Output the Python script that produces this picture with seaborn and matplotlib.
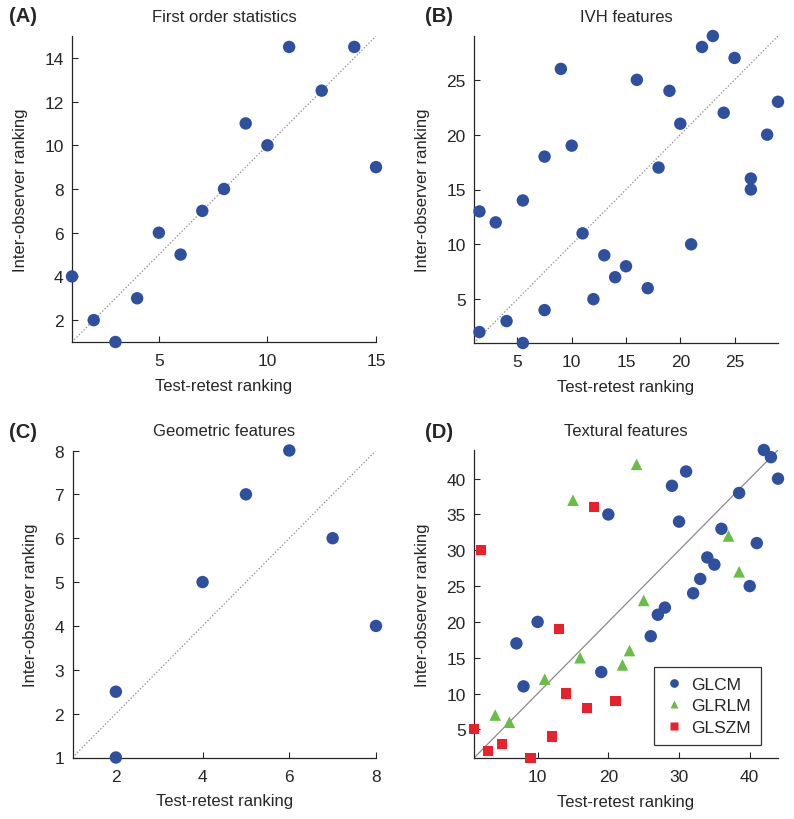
import numpy as np
import pandas as pd
import matplotlib
matplotlib.use("Agg")
import matplotlib.pyplot as plt
import seaborn as sns

# (A) First order statistics
first_test = [1, 2, 3, 4, 5, 6, 7, 8, 9, 10, 11, 12.5, 14, 15]
first_inter = [4, 2, 1, 3, 6, 5, 7, 8, 11, 10, 14.5, 12.5, 14.5, 9]

# (B) IVH features
ivh_test = [1.5, 1.5, 3, 4, 5.5, 5.5, 7.5, 7.5, 9, 10, 11, 12, 13, 14, 15,
            16, 17, 18, 19, 20, 21, 22, 23, 24, 25, 26.5, 26.5, 28, 29]
ivh_inter = [13, 2, 12, 3, 14, 1, 18, 4, 26, 19, 11, 5, 9, 7, 8,
             25, 6, 17, 24, 21, 10, 28, 29, 22, 27, 16, 15, 20, 23]

# (C) Geometric features
geo_test = [2, 2, 4, 5, 6, 7, 8]
geo_inter = [1, 2.5, 5, 7, 8, 6, 4]

# (D) Textural features
glcm_test = [7, 8, 10, 19, 20, 26, 27, 28, 29, 30, 31, 32, 33, 34, 35, 36,
             38.5, 40, 41, 42, 43, 44]
glcm_inter = [17, 11, 20, 13, 35, 18, 21, 22, 39, 34, 41, 24, 26, 29, 28, 33,
              38, 25, 31, 44, 43, 40]
glrlm_test = [4, 6, 11, 15, 16, 22, 23, 24, 25, 37, 38.5]
glrlm_inter = [7, 6, 12, 37, 15, 14, 16, 42, 23, 32, 27]
glszm_test = [1, 2, 3, 5, 9, 12, 13, 14, 17, 18, 21]
glszm_inter = [5, 30, 2, 3, 1, 4, 19, 10, 8, 36, 9]

BLUE = "#2f4f9f"
GREEN = "#6abd45"
RED = "#e8212b"

sns.set_style("ticks")
plt.rcParams["font.family"] = ["Liberation Sans", "DejaVu Sans"]

W, H = 794, 820
fig = plt.figure(figsize=(W / 100, H / 100), dpi=100)


def px_axes(left, top, right, bottom):
    return fig.add_axes([left / W, 1 - bottom / H, (right - left) / W, (bottom - top) / H])


def style(ax, lim, ticks, title):
    ax.set_xlim(*lim)
    ax.set_ylim(*lim)
    ax.set_xticks(ticks[0])
    ax.set_yticks(ticks[1])
    ax.tick_params(direction="in", length=4, width=0.8, labelsize=12.5)
    ax.tick_params(axis="x", pad=8)
    ax.tick_params(axis="y", pad=6)
    for s in ["top", "right"]:
        ax.spines[s].set_visible(False)
    for s in ["left", "bottom"]:
        ax.spines[s].set_linewidth(0.9)
    ax.set_title(title, fontsize=12, pad=11)
    ax.set_xlabel("Test-retest ranking", fontsize=12, labelpad=7)
    ax.set_ylabel("Inter-observer ranking", fontsize=12, labelpad=12)


def diag(ax, lim, ls=":", color="#888888"):
    sns.lineplot(x=list(lim), y=list(lim), ax=ax, color=color, lw=0.9, linestyle=ls, zorder=1)


panels = [
    ("(A)", "First order statistics", first_test, first_inter, (1, 15),
     ([5, 10, 15], [2, 4, 6, 8, 10, 12, 14]), (72, 37, 376, 343)),
    ("(B)", "IVH features", ivh_test, ivh_inter, (1, 29),
     ([5, 10, 15, 20, 25], [5, 10, 15, 20, 25]), (474, 37, 778, 344)),
    ("(C)", "Geometric features", geo_test, geo_inter, (1, 8),
     ([2, 4, 6, 8], [1, 2, 3, 4, 5, 6, 7, 8]), (72.5, 451.5, 376, 758.5)),
]
label_pos = {"(A)": (9, 17), "(B)": (425, 17), "(C)": (9, 433), "(D)": (425, 433)}

for lab, title, xs, ys, lim, ticks, box in panels:
    ax = px_axes(*box)
    diag(ax, lim)
    sns.scatterplot(x=xs, y=ys, ax=ax, color=BLUE, s=80, edgecolor="none",
                    clip_on=False, zorder=3)
    style(ax, lim, ticks, title)

# (D) textural
axd = px_axes(474, 451, 778, 759)
diag(axd, (1, 44), ls="-", color="#8a8a8a")
tex = pd.DataFrame({
    "test": glcm_test + glrlm_test + glszm_test,
    "inter": glcm_inter + glrlm_inter + glszm_inter,
    "group": ["GLCM"] * len(glcm_test) + ["GLRLM"] * len(glrlm_test) + ["GLSZM"] * len(glszm_test),
})
sns.scatterplot(data=tex, x="test", y="inter", hue="group", style="group", ax=axd,
                palette={"GLCM": BLUE, "GLRLM": GREEN, "GLSZM": RED},
                markers={"GLCM": "o", "GLRLM": "^", "GLSZM": "s"},
                size="group", sizes={"GLCM": 80, "GLRLM": 70, "GLSZM": 55},
                edgecolor="none", clip_on=False, zorder=3)
style(axd, (1, 44), ([10, 20, 30, 40], [5, 10, 15, 20, 25, 30, 35, 40]), "Textural features")
handles, labels = axd.get_legend_handles_labels()
leg = axd.legend(handles, labels, loc="lower right", bbox_to_anchor=(0.944, 0.042),
                 fontsize=12.5, frameon=True, fancybox=False, framealpha=1,
                 edgecolor="#333333", handlelength=1.0, handletextpad=0.5,
                 borderpad=0.6, labelspacing=0.35, markerscale=0.7, borderaxespad=0)
leg.get_frame().set_linewidth(0.9)

for lab, (x, y) in label_pos.items():
    fig.text(x / W, 1 - y / H, lab, fontsize=14.5, fontweight="bold", va="center", ha="left")

fig.savefig("out.png", dpi=100)
